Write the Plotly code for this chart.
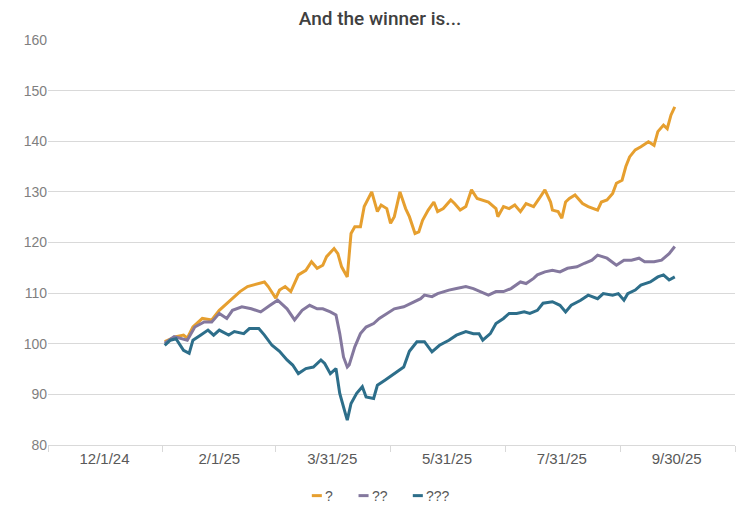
import plotly.graph_objects as go

# series 1 "?" (gold)
gold_dates = [
    "2025-01-02", "2025-01-08", "2025-01-12", "2025-01-14", "2025-01-17", "2025-01-22",
    "2025-01-27", "2025-01-31", "2025-02-06", "2025-02-11", "2025-02-15", "2025-02-18",
    "2025-02-24", "2025-02-26", "2025-03-02", "2025-03-04", "2025-03-07", "2025-03-10",
    "2025-03-14", "2025-03-18", "2025-03-21", "2025-03-24", "2025-03-27", "2025-03-29",
    "2025-04-02", "2025-04-04", "2025-04-06", "2025-04-09", "2025-04-11", "2025-04-13",
    "2025-04-16", "2025-04-18", "2025-04-20", "2025-04-22", "2025-04-25", "2025-04-27",
    "2025-04-30", "2025-05-02", "2025-05-04", "2025-05-07", "2025-05-10", "2025-05-12",
    "2025-05-15", "2025-05-17", "2025-05-19", "2025-05-22", "2025-05-25", "2025-05-27",
    "2025-05-30", "2025-06-03", "2025-06-05", "2025-06-08", "2025-06-11", "2025-06-14",
    "2025-06-17", "2025-06-20", "2025-06-23", "2025-06-27", "2025-06-28", "2025-07-01",
    "2025-07-04", "2025-07-07", "2025-07-10", "2025-07-13", "2025-07-17", "2025-07-20",
    "2025-07-23", "2025-07-26", "2025-07-27", "2025-07-30", "2025-08-01", "2025-08-03",
    "2025-08-05", "2025-08-08", "2025-08-12", "2025-08-15", "2025-08-20", "2025-08-22",
    "2025-08-25", "2025-08-28", "2025-08-30", "2025-09-02", "2025-09-04", "2025-09-06",
    "2025-09-09", "2025-09-12", "2025-09-16", "2025-09-19", "2025-09-21", "2025-09-24",
    "2025-09-26", "2025-09-28", "2025-09-30",
]
gold_values = [
    100.4, 101.4, 101.7, 101.1, 103.3, 105.0,
    104.7, 106.6, 108.6, 110.3, 111.3, 111.6,
    112.2, 111.3, 109.0, 110.6, 111.3, 110.3,
    113.6, 114.5, 116.2, 114.9, 115.5, 117.2,
    118.8, 117.8, 115.2, 113.2, 121.8, 123.1,
    123.1, 127.1, 128.4, 130.0, 126.1, 127.4,
    126.7, 123.8, 125.1, 130.0, 126.7, 125.1,
    121.8, 122.1, 124.4, 126.4, 128.0, 126.1,
    126.7, 128.4, 127.7, 126.4, 127.1, 130.4,
    128.7, 128.4, 128.0, 126.7, 125.1, 127.1,
    126.7, 127.4, 126.1, 127.7, 127.1, 128.7,
    130.4, 128.0, 126.4, 126.1, 124.8, 128.0,
    128.7, 129.4, 127.7, 127.1, 126.4, 128.0,
    128.4, 129.7, 131.7, 132.3, 135.0, 136.9,
    138.3, 138.9, 139.9, 139.2, 141.9, 143.2,
    142.5, 145.2, 146.8,
]

# series 2 "??" (purple)
purple_dates = [
    "2025-01-02", "2025-01-07", "2025-01-14", "2025-01-18", "2025-01-23", "2025-01-27",
    "2025-01-31", "2025-02-04", "2025-02-07", "2025-02-12", "2025-02-17", "2025-02-22",
    "2025-02-27", "2025-03-03", "2025-03-08", "2025-03-12", "2025-03-16", "2025-03-20",
    "2025-03-24", "2025-03-27", "2025-03-31", "2025-04-03", "2025-04-05", "2025-04-07",
    "2025-04-09", "2025-04-10", "2025-04-13", "2025-04-16", "2025-04-19", "2025-04-23",
    "2025-04-26", "2025-04-30", "2025-05-04", "2025-05-09", "2025-05-13", "2025-05-18",
    "2025-05-20", "2025-05-24", "2025-05-27", "2025-06-02", "2025-06-06", "2025-06-11",
    "2025-06-15", "2025-06-19", "2025-06-23", "2025-06-27", "2025-07-01", "2025-07-05",
    "2025-07-10", "2025-07-13", "2025-07-17", "2025-07-19", "2025-07-23", "2025-07-27",
    "2025-07-31", "2025-08-04", "2025-08-09", "2025-08-13", "2025-08-17", "2025-08-20",
    "2025-08-25", "2025-08-30", "2025-09-03", "2025-09-07", "2025-09-11", "2025-09-14",
    "2025-09-19", "2025-09-23", "2025-09-27", "2025-09-30",
]
purple_values = [
    100.1, 101.4, 100.7, 103.3, 104.3, 104.3,
    106.0, 105.0, 106.6, 107.3, 106.9, 106.3,
    107.6, 108.6, 106.9, 104.7, 106.6, 107.6,
    106.9, 106.9, 106.3, 105.7, 102.0, 97.4,
    95.4, 95.8, 99.4, 102.0, 103.3, 104.0,
    105.0, 106.0, 106.9, 107.3, 108.0, 108.9,
    109.6, 109.3, 109.9, 110.6, 110.9, 111.3,
    110.9, 110.3, 109.6, 110.3, 110.3, 110.9,
    112.2, 111.9, 112.9, 113.6, 114.2, 114.5,
    114.2, 114.9, 115.2, 115.9, 116.5, 117.5,
    116.9, 115.5, 116.5, 116.5, 116.9, 116.2,
    116.2, 116.5, 117.8, 119.2,
]

# series 3 "???" (teal)
teal_dates = [
    "2025-01-02", "2025-01-05", "2025-01-08", "2025-01-12", "2025-01-15", "2025-01-17",
    "2025-01-21", "2025-01-25", "2025-01-28", "2025-01-31", "2025-02-05", "2025-02-08",
    "2025-02-13", "2025-02-16", "2025-02-21", "2025-02-24", "2025-02-28", "2025-03-04",
    "2025-03-08", "2025-03-11", "2025-03-14", "2025-03-18", "2025-03-22", "2025-03-26",
    "2025-03-28", "2025-03-31", "2025-04-03", "2025-04-05", "2025-04-08", "2025-04-09",
    "2025-04-11", "2025-04-14", "2025-04-17", "2025-04-19", "2025-04-23", "2025-04-25",
    "2025-04-29", "2025-05-03", "2025-05-05", "2025-05-09", "2025-05-12", "2025-05-16",
    "2025-05-20", "2025-05-24", "2025-05-28", "2025-06-02", "2025-06-06", "2025-06-11",
    "2025-06-15", "2025-06-18", "2025-06-20", "2025-06-24", "2025-06-27", "2025-07-01",
    "2025-07-04", "2025-07-08", "2025-07-12", "2025-07-15", "2025-07-19", "2025-07-22",
    "2025-07-27", "2025-07-31", "2025-08-03", "2025-08-06", "2025-08-11", "2025-08-15",
    "2025-08-20", "2025-08-23", "2025-08-28", "2025-08-31", "2025-09-03", "2025-09-05",
    "2025-09-09", "2025-09-12", "2025-09-17", "2025-09-21", "2025-09-24", "2025-09-27",
    "2025-09-30",
]
teal_values = [
    99.7, 100.7, 101.0, 98.7, 98.1, 100.7,
    101.7, 102.7, 101.7, 102.7, 101.7, 102.4,
    102.0, 103.0, 103.0, 101.7, 99.7, 98.5,
    96.8, 95.8, 94.1, 95.1, 95.4, 96.8,
    96.1, 94.1, 95.1, 90.2, 86.2, 84.9,
    88.2, 90.2, 91.5, 89.5, 89.2, 91.8,
    92.8, 93.8, 94.4, 95.4, 98.5, 100.4,
    100.4, 98.4, 99.7, 100.7, 101.7, 102.4,
    102.0, 102.0, 100.7, 102.0, 104.0, 105.0,
    106.0, 106.0, 106.3, 106.0, 106.6, 108.0,
    108.3, 107.6, 106.3, 107.6, 108.6, 109.6,
    108.9, 109.9, 109.6, 109.9, 108.6, 109.9,
    110.6, 111.6, 112.2, 113.2, 113.6, 112.6,
    113.2,
]

names = ["?", "??", "???"]
colors = ["#E69F2F", "#84789E", "#2D6E8A"]

# x axis: labels sit between the tick marks
tick_bounds = ["2024-11-01", "2025-01-01", "2025-03-02", "2025-05-02",
               "2025-07-02", "2025-09-01", "2025-11-01"]
label_dates = ["2024-12-01", "2025-01-31", "2025-04-01", "2025-06-01",
               "2025-08-01", "2025-10-01"]
label_text = ["12/1/24", "2/1/25", "3/31/25", "5/31/25", "7/31/25", "9/30/25"]

fig = go.Figure()
series = [(gold_dates, gold_values), (purple_dates, purple_values), (teal_dates, teal_values)]
for (d, v), name, c in zip(series, names, colors):
    fig.add_scatter(x=d, y=v, mode="lines", name=name,
                    line=dict(color=c, width=3), showlegend=False)

# small legend below the plot (short swatches like the original)
legend_x = [0.384, 0.452, 0.531]
for lx, name, c in zip(legend_x, names, colors):
    fig.add_shape(type="line", xref="paper", yref="paper",
                  x0=lx, x1=lx + 0.0146, y0=-0.125, y1=-0.125,
                  line=dict(color=c, width=3))
    fig.add_annotation(xref="paper", yref="paper", x=lx + 0.016, y=-0.125,
                       text=name, showarrow=False, xanchor="left", yanchor="middle",
                       font=dict(size=14, color="#595959"))

# page body has an 8px margin, so the figure is a bit smaller than the window
fig.update_layout(
    width=744, height=514,
    paper_bgcolor="white", plot_bgcolor="white",
    margin=dict(l=40, r=17, t=32, b=77),
    font=dict(family="Liberation Sans, Arial, sans-serif", color="#595959"),
    title=dict(text="And the winner is...", x=0.5, xanchor="center",
               y=1, yref="container", yanchor="top", pad=dict(t=4),
               font=dict(family="Roboto, Arial, sans-serif",
                         size=19, color="#404040", weight=500)),
    xaxis=dict(
        type="date", range=["2024-11-01", "2025-11-01"],
        tickmode="array", tickvals=label_dates, ticktext=label_text,
        ticks="", showgrid=False, tickfont=dict(size=15, color="#595959"),
        showline=True, linecolor="#d9d9d9", linewidth=1,
        minor=dict(tickmode="array", tickvals=tick_bounds, ticks="outside",
                   ticklen=6, tickcolor="#d9d9d9", tickwidth=1, showgrid=False),
    ),
    yaxis=dict(
        range=[80, 160], dtick=10, showgrid=True, gridcolor="#d9d9d9",
        gridwidth=1, zeroline=False, ticks="",
        tickfont=dict(size=14, color="#7f7f7f"),
    ),
)

fig.write_html("out.html")
